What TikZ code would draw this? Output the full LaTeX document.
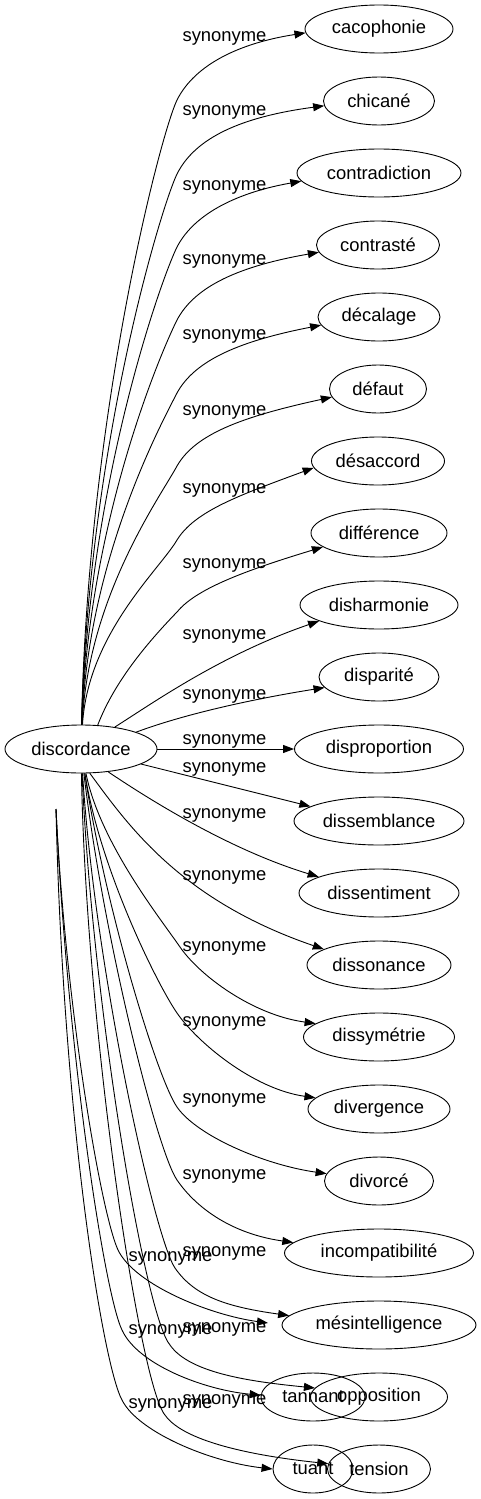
\documentclass[tikz,border=0pt]{standalone}
\usepackage{fontspec}
\setmainfont{Liberation Sans}
\usetikzlibrary{arrows.meta,shapes.geometric}
\newcommand\myUpEdge[3]{%
  \draw[edge] (discordance) .. controls (88,{(#2+#3+727)/2}) and (160,{#2+1.55*#3}) .. (177,{#2+#3})
    .. controls (195,{#2+0.45*#3}) and (240,{#2+8}) .. (#1);}
\newcommand\myLowEdge[7]{%
  \draw[edge] (discordance) .. controls (#6,{773+0.4*(#3-773)}) and ({#2-#7},{#3-29}) .. (#2,#3)
    .. controls ({#2+20},{#3+29}) and (#4,#5) .. (#1);}
\begin{document}
\begin{tikzpicture}[x=1pt,y=-1pt,
  word/.style={draw, ellipse, minimum height=48pt, inner sep=0pt, line width=0.9pt,
    font=\fontsize{18.4}{20}\selectfont},
  lab/.style={anchor=base, inner sep=0pt, font=\fontsize{18.4}{20}\selectfont},
  edge/.style={line width=0.9pt, -{Triangle[length=11pt,width=8pt]}}]
\useasboundingbox (0,0) rectangle (481,1499);
% nodes
\node[word, minimum width=152pt] (discordance) at (81,749) {discordance};
\node[word, minimum width=148pt] (cacophonie) at (379,29) {cacophonie};
\node[word, minimum width=111pt] (chicane) at (379,101) {chicané};
\node[word, minimum width=164pt] (contradiction) at (379,173) {contradiction};
\node[word, minimum width=123pt] (contraste) at (378,245) {contrasté};
\node[word, minimum width=122pt] (decalage) at (379,317) {décalage};
\node[word, minimum width=97pt] (defaut) at (378,389) {défaut};
\node[word, minimum width=133pt] (desaccord) at (378,461) {désaccord};
\node[word, minimum width=136pt] (difference) at (379,533) {différence};
\node[word, minimum width=158pt] (disharmonie) at (379,605) {disharmonie};
\node[word, minimum width=120pt] (disparite) at (379,677) {disparité};
\node[word, minimum width=169pt] (disproportion) at (379,749) {disproportion};
\node[word, minimum width=170pt] (dissemblance) at (379,821) {dissemblance};
\node[word, minimum width=160pt] (dissentiment) at (379,893) {dissentiment};
\node[word, minimum width=144pt] (dissonance) at (379,965) {dissonance};
\node[word, minimum width=151pt] (dissymetrie) at (379,1037) {dissymétrie};
\node[word, minimum width=142pt] (divergence) at (379,1109) {divergence};
\node[word, minimum width=109pt] (divorce) at (379,1181) {divorcé};
\node[word, minimum width=189pt] (incompat) at (379,1253) {incompatibilité};
\node[word, minimum width=194pt] (mesintel) at (379,1325) {mésintelligence};
\node[word, minimum width=104pt] (tannant) at (313,1397) {tannant};
\node[word, minimum width=137pt] (opposition) at (379,1397) {opposition};
\node[word, minimum width=80pt] (tuant) at (313,1469) {tuant};
\node[word, minimum width=103pt] (tension) at (379,1469) {tension};
\coordinate (src2) at (56,809);
\coordinate (ghost) at (268,1323);
% labels
\foreach \n/\ly in {1/35,2/109,3/184,4/258,5/333,6/409,7/487,8/562,9/633,10/693,11/738,
  12/766,13/812,14/874,15/945,16/1020,17/1097,18/1173,19/1250,20/1326,21/1398}
  \node[lab] (l\n) at (224.5,\ly+6) {synonyme};
\foreach \n/\ly in {1/1255,2/1328,3/1402}
  \node[lab] (s\n) at (170.5,\ly+6) {synonyme};
% upper edges
\myUpEdge{cacophonie.183}{35}{65}
\myUpEdge{chicane.185}{109}{65}
\myUpEdge{contradiction.186}{184}{63}
\myUpEdge{contraste.187}{258}{62}
\myUpEdge{decalage.188}{333}{60}
\myUpEdge{defaut.190}{409}{57}
\myUpEdge{desaccord.186}{487}{53}
\draw[edge] (discordance.55) .. controls (115,680) and (150,640) .. (177,612)
  .. controls (195,590) and (240,572) .. (difference.194);
\draw[edge] (discordance.33) .. controls (150,705) and (220,655) .. (disharmonie.195);
\draw[edge] (discordance.17) .. controls (190,712) and (265,697) .. (disparite.191);
\draw[edge] (discordance) -- (disproportion);
\draw[edge] (discordance) -- (dissemblance.168);
\draw[edge] (discordance.-40) .. controls (150,800) and (230,850) .. (dissentiment.165);
\draw[edge] (discordance.-70) .. controls (128,825) and (180,900) .. (dissonance.164);
% lower edges
\myLowEdge{dissymetrie.168}{180}{947}{253}{1015}{100}{20}
\myLowEdge{divergence.170}{177}{1013}{253}{1089}{100}{20}
\myLowEdge{divorce.172}{177}{1107}{265}{1165}{105}{20}
\myLowEdge{incompat.173}{177}{1180}{233}{1234}{103}{20}
\myLowEdge{mesintel.174}{175}{1268}{228}{1307}{95}{20}
\myLowEdge{opposition.172}{170}{1345}{255}{1382}{92}{25}
\myLowEdge{tension.174}{165}{1415}{265}{1457}{86}{25}
% stray edges
\draw[edge] (src2) .. controls (65,1000) and (100,1210) .. (118,1250)
  .. controls (135,1285) and (210,1315) .. (ghost);
\draw[edge] (src2) .. controls (68,1060) and (105,1295) .. (122,1330)
  .. controls (138,1365) and (205,1390) .. (tannant.178);
\draw[edge] (src2) .. controls (63,1120) and (103,1365) .. (122,1400)
  .. controls (138,1432) and (210,1462) .. (tuant.west);
\end{tikzpicture}
\end{document}
